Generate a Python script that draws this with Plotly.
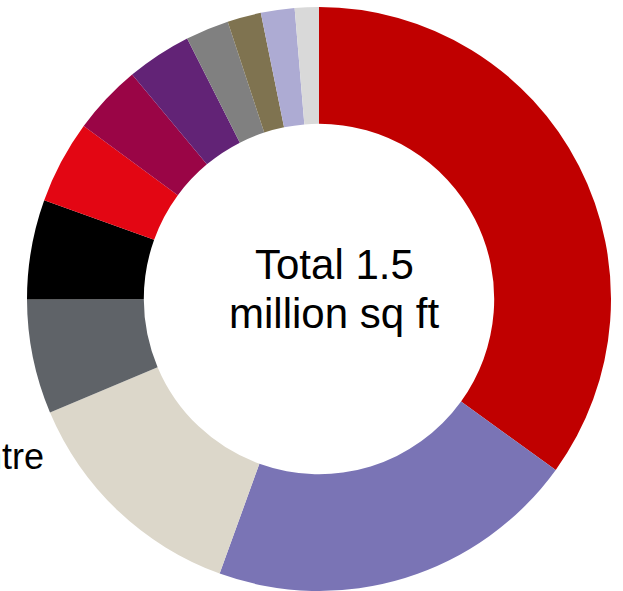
import plotly.graph_objects as go

# Floor space by use, thousand sq ft (total ~1.5 million sq ft)
segments = ["Segment 1", "Segment 2", "Centre", "Segment 4", "Segment 5", "Segment 6",
            "Segment 7", "Segment 8", "Segment 9", "Segment 10", "Segment 11", "Segment 12"]
area_k_sqft = [525, 309, 197, 95, 83, 69, 58, 54, 36, 28, 28, 20]
colors = ["#C00000", "#7A74B5", "#DCD7CA", "#5F6368", "#000000", "#E30613",
          "#9A0546", "#622376", "#808080", "#7F7350", "#ADABD3", "#D9D9D9"]

center_lines = ["Total 1.5", "million sq ft"]
side_label = "Centre"

W, H = 623, 591
cx, cy, r = 319, 299, 292

fig = go.Figure(go.Pie(
    labels=segments,
    values=area_k_sqft,
    hole=0.60,
    sort=False,
    direction="clockwise",
    rotation=0,
    marker=dict(colors=colors, line=dict(width=0)),
    textinfo="none",
    hoverinfo="label+value",
    showlegend=False,
    domain=dict(x=[(cx - r) / W, (cx + r) / W],
                y=[(H - cy - r) / H, (H - cy + r) / H]),
))

font = "Liberation Sans, Arial, sans-serif"
annotations = [
    dict(text=center_lines[0], x=334 / W, y=1 - 264.5 / H, xref="paper", yref="paper",
         xanchor="center", yanchor="middle", showarrow=False,
         font=dict(family=font, size=42, color="#000000")),
    dict(text=center_lines[1], x=334 / W, y=1 - 313.5 / H, xref="paper", yref="paper",
         xanchor="center", yanchor="middle", showarrow=False,
         font=dict(family=font, size=42, color="#000000")),
    dict(text=side_label, x=46 / W, y=1 - 456.5 / H, xref="paper", yref="paper",
         xanchor="right", yanchor="middle", showarrow=False,
         font=dict(family=font, size=36, color="#000000")),
]

fig.update_layout(
    width=W, height=H,
    margin=dict(l=0, r=0, t=0, b=0),
    paper_bgcolor="#FFFFFF",
    plot_bgcolor="#FFFFFF",
    annotations=annotations,
)

fig.write_html("out.html")
